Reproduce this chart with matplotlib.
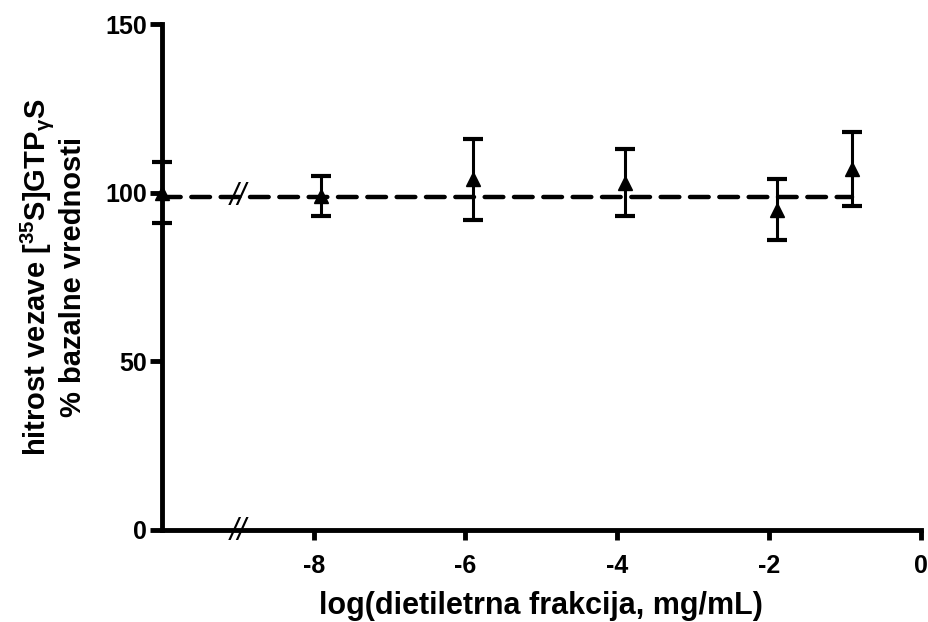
import matplotlib
matplotlib.use('Agg')
import matplotlib.pyplot as plt

plt.rcParams['font.family'] = ['Liberation Sans', 'DejaVu Sans']
plt.rcParams['font.weight'] = 'bold'
plt.rcParams['axes.unicode_minus'] = False
plt.rcParams['mathtext.fontset'] = 'custom'
plt.rcParams['mathtext.rm'] = 'Liberation Sans:bold'
plt.rcParams['mathtext.it'] = 'Liberation Sans:bold'
plt.rcParams['mathtext.bf'] = 'Liberation Sans:bold'

# podatki: kontrola (bazalno) + koncentracije
kontrola_x = [-10.0]
kontrola_y = [100.0]
kontrola_err = [9.0]

log_konc = [-7.9, -5.9, -3.9, -1.9, -0.9]
vezava = [99.0, 104.0, 103.0, 95.0, 107.0]
napaka = [6.0, 12.0, 10.0, 9.0, 11.0]

bazalna_linija_x = [-10.0, -0.9]
bazalna_linija_y = [98.7, 98.7]

fig = plt.figure(figsize=(9.29, 6.22), dpi=100)
ax = fig.add_axes([0.1744, 0.148, 0.8166, 0.813])

ax.plot(bazalna_linija_x, bazalna_linija_y, color='black', lw=3.2,
        dashes=(4.2, 2.4), dash_capstyle='round', zorder=2)

ax.errorbar(log_konc, vezava, yerr=napaka, fmt='^', color='black',
            markersize=10, elinewidth=2.2, capsize=7, capthick=3, zorder=3)
ax.errorbar(kontrola_x, kontrola_y, yerr=kontrola_err, fmt='^', color='black',
            markersize=10, elinewidth=2.2, capsize=7, capthick=3, zorder=3,
            clip_on=False)

# oznake preloma osi
ax.text(-9.0, 98.7, '//', ha='center', va='center', fontsize=22,
        fontweight='normal', style='italic', zorder=4)
ax.text(-9.0, -0.5, '//', ha='center', va='center', fontsize=22,
        fontweight='normal', style='italic', zorder=4, clip_on=False)

ax.set_xlim(-10, 0)
ax.set_ylim(0, 150)
ax.set_xticks([-8, -6, -4, -2, 0])
ax.set_yticks([0, 50, 100, 150])

for s in ['top', 'right']:
    ax.spines[s].set_visible(False)
for s in ['left', 'bottom']:
    ax.spines[s].set_linewidth(3.5)

ax.tick_params(axis='x', direction='out', length=7, width=3.5, labelsize=18, pad=10)
ax.tick_params(axis='y', direction='out', length=9, width=3.5, labelsize=18, pad=2)
for lbl in ax.get_xticklabels() + ax.get_yticklabels():
    lbl.set_fontweight('bold')

ax.set_xlabel('log(dietiletrna frakcija, mg/mL)', fontsize=22, fontweight='bold',
              labelpad=10)
ax.set_ylabel('hitrost vezave [$^{35}$S]GTP$_{\\gamma}$S\n% bazalne vrednosti',
              fontsize=21, fontweight='bold', labelpad=13, linespacing=1.15)

fig.savefig('out.png', dpi=100)
